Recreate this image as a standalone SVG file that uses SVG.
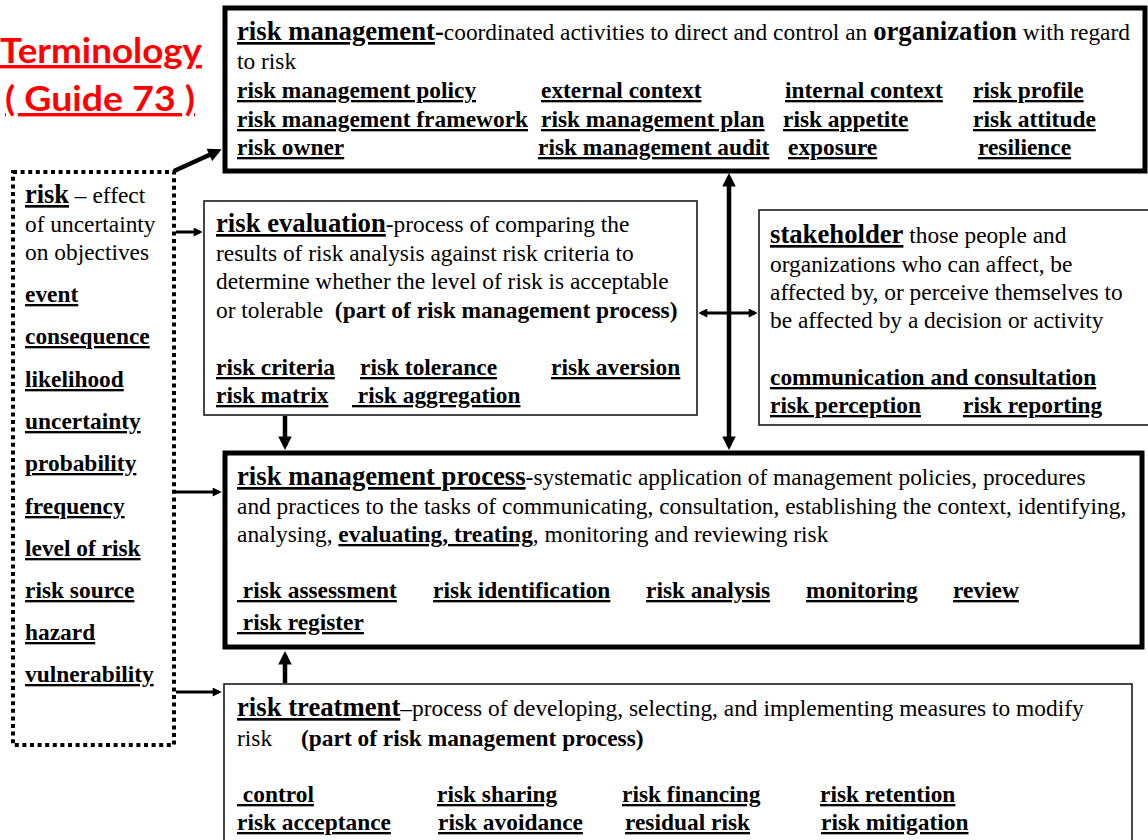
<svg xmlns="http://www.w3.org/2000/svg" width="1148" height="840" viewBox="0 0 1148 840">
<style>
text{font-family:"Liberation Serif","Times New Roman",serif;fill:#000;font-size:23.4px}
.h{font-weight:bold;font-size:26.7px;text-decoration:underline;text-decoration-thickness:2.2px}
.u{font-weight:bold;text-decoration:underline;text-decoration-thickness:2.2px}
.b{font-weight:bold}
.title{font-family:Lato,"Open Sans",sans-serif;font-weight:bold;font-size:34px;fill:#ff0000;text-decoration:underline;text-decoration-thickness:3px}
.thick{fill:#fff;stroke:#000;stroke-width:5}
.thin{fill:#fff;stroke:#1a1a1a;stroke-width:1.6}
.dot{fill:#fff;stroke:#000;stroke-width:4;stroke-dasharray:4 3.6}
.c{stroke:#000;fill:none}
</style>
<defs>
<marker id="ah" viewBox="0 0 10 10" refX="7" refY="5" markerWidth="3.5" markerHeight="3" orient="auto-start-reverse" markerUnits="strokeWidth">
<path d="M0,0 L10,5 L0,10 z" fill="#000"/>
</marker>
</defs>

<g id="title">
<text class="title" x="0" y="63" textLength="202" lengthAdjust="spacingAndGlyphs">Terminology</text>
<text class="title" x="5" y="111" textLength="190" lengthAdjust="spacingAndGlyphs">( Guide 73 )</text>
</g>

<g id="terms-box">
<rect class="dot" x="13" y="172" width="161" height="573"/>
<text x="25" y="203"><tspan class="u" font-size="26.4">risk</tspan> – effect</text>
<text x="25" y="232">of uncertainty</text>
<text x="25" y="260">on objectives</text>
<text class="u" x="25" y="302">event</text>
<text class="u" x="25" y="344">consequence</text>
<text class="u" x="25" y="387">likelihood</text>
<text class="u" x="25" y="429">uncertainty</text>
<text class="u" x="25" y="471">probability</text>
<text class="u" x="25" y="514">frequency</text>
<text class="u" x="25" y="556">level of risk</text>
<text class="u" x="25" y="598">risk source</text>
<text class="u" x="25" y="640">hazard</text>
<text class="u" x="25" y="682">vulnerability</text>
</g>

<g id="risk-management">
<rect class="thick" x="225" y="8" width="920" height="163"/>
<text x="237" y="40"><tspan class="h">risk management</tspan><tspan class="b" font-size="26.7">-</tspan>coordinated activities to direct and control an <tspan class="b" font-size="26.7">organization</tspan> with regard</text>
<text x="237" y="69">to risk</text>
<text class="u" x="237" y="98">risk management policy</text>
<text class="u" x="541" y="98">external context</text>
<text class="u" x="785" y="98">internal context</text>
<text class="u" x="973" y="98">risk profile</text>
<text class="u" x="237" y="127">risk management framework</text>
<text class="u" x="541" y="127">risk management plan</text>
<text class="u" x="783" y="127">risk appetite</text>
<text class="u" x="973" y="127">risk attitude</text>
<text class="u" x="237" y="155">risk owner</text>
<text class="u" x="538" y="155">risk management audit</text>
<text class="u" x="788" y="155">exposure</text>
<text class="u" x="978" y="155">resilience</text>
</g>

<g id="risk-evaluation">
<rect class="thin" x="204" y="201" width="493" height="214"/>
<text x="216" y="232"><tspan class="h">risk evaluation</tspan>-process of comparing the</text>
<text x="216" y="261">results of risk analysis against risk criteria to</text>
<text x="216" y="289">determine whether the level of risk is acceptable</text>
<text x="216" y="318" xml:space="preserve">or tolerable  <tspan class="b">(part of risk management process)</tspan></text>
<text class="u" x="216" y="375">risk criteria</text>
<text class="u" x="360" y="375">risk tolerance</text>
<text class="u" x="551" y="375">risk aversion</text>
<text class="u" x="216" y="403">risk matrix</text>
<text class="u" x="352" y="403">&#160;risk aggregation</text>
</g>

<g id="stakeholder">
<rect class="thin" x="759" y="210" width="392" height="215"/>
<text x="770" y="243"><tspan class="h">stakeholder</tspan> those people and</text>
<text x="770" y="272">organizations who can affect, be</text>
<text x="770" y="300">affected by, or perceive themselves to</text>
<text x="770" y="328">be affected by a decision or activity</text>
<text class="u" x="770" y="385">communication and consultation</text>
<text class="u" x="770" y="413">risk perception</text>
<text class="u" x="963" y="413">risk reporting</text>
</g>

<g id="risk-management-process">
<rect class="thick" x="225" y="453" width="917" height="194"/>
<text x="237" y="485"><tspan class="h">risk management process</tspan>-systematic application of management policies, procedures</text>
<text x="237" y="514">and practices to the tasks of communicating, consultation, establishing the context, identifying,</text>
<text x="237" y="542">analysing, <tspan class="u">evaluating, treating</tspan>, monitoring and reviewing risk</text>
<text class="u" x="237" y="598">&#160;risk assessment</text>
<text class="u" x="433" y="598">risk identification</text>
<text class="u" x="646" y="598">risk analysis</text>
<text class="u" x="806" y="598">monitoring</text>
<text class="u" x="953" y="598">review</text>
<text class="u" x="237" y="630">&#160;risk register</text>
</g>

<g id="risk-treatment">
<rect class="thin" x="224" y="684" width="908" height="170"/>
<text x="237" y="716"><tspan class="h">risk treatment</tspan>–process of developing, selecting, and implementing measures to modify</text>
<text x="237" y="746">risk</text>
<text class="b" x="301" y="746">(part of risk management process)</text>
<text class="u" x="237" y="802">&#160;control</text>
<text class="u" x="437" y="802">risk sharing</text>
<text class="u" x="622" y="802">risk financing</text>
<text class="u" x="820" y="802">risk retention</text>
<text class="u" x="237" y="830">risk acceptance</text>
<text class="u" x="438" y="830">risk avoidance</text>
<text class="u" x="625" y="830">residual risk</text>
<text class="u" x="821" y="830">risk mitigation</text>
</g>

<g id="connectors">
<line class="c" x1="174" y1="171" x2="218" y2="151" stroke-width="4.5" marker-end="url(#ah)"/>
<line class="c" x1="176" y1="232" x2="200" y2="232" stroke-width="3" marker-end="url(#ah)"/>
<line class="c" x1="176" y1="492" x2="219" y2="492" stroke-width="3" marker-end="url(#ah)"/>
<line class="c" x1="176" y1="692" x2="219" y2="692" stroke-width="3" marker-end="url(#ah)"/>
<line class="c" x1="729" y1="177" x2="729" y2="446" stroke-width="4.5" marker-start="url(#ah)" marker-end="url(#ah)"/>
<line class="c" x1="701" y1="313" x2="755" y2="313" stroke-width="3" marker-start="url(#ah)" marker-end="url(#ah)"/>
<line class="c" x1="285" y1="416" x2="285" y2="446" stroke-width="4.5" marker-end="url(#ah)"/>
<line class="c" x1="285" y1="683" x2="285" y2="655" stroke-width="4.5" marker-end="url(#ah)"/>
</g>
</svg>
